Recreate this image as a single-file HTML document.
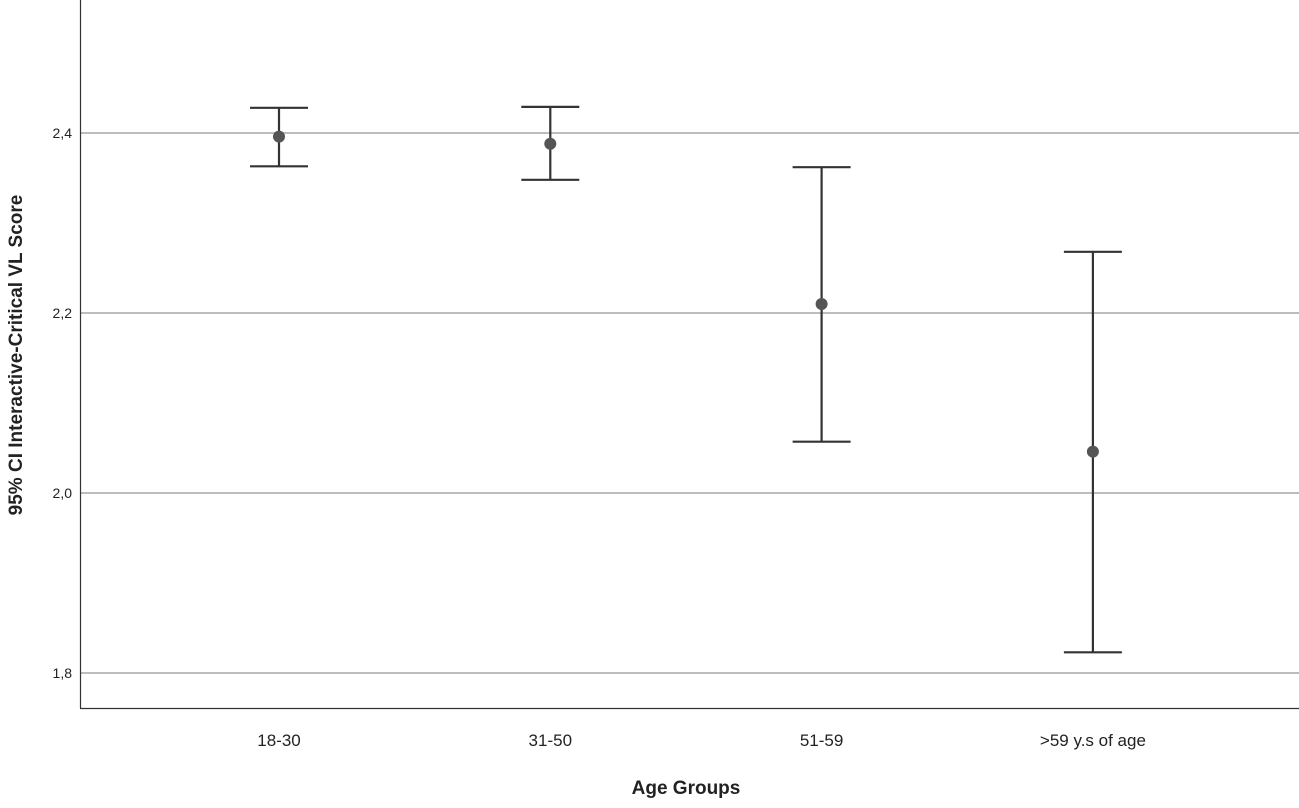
<!DOCTYPE html>
<html><head><meta charset="utf-8"><style>
body{margin:0;background:#fff}
svg{display:block;font-family:"Liberation Sans",Arial,sans-serif}
</style></head><body>
<svg id="chart" width="1299" height="808" viewBox="0 0 1299 808">
<g id="grid"></g>
<g id="yticks"></g>
<g id="xticks"></g>
<g id="marks"></g>
<line x1="80.5" y1="0" x2="80.5" y2="708" stroke="#333" stroke-width="1.2"/>
<line x1="80" y1="708.5" x2="1299" y2="708.5" stroke="#333" stroke-width="1.2"/>
<text transform="translate(22,355) rotate(-90)" text-anchor="middle" font-size="19" font-weight="bold" fill="#222">95% CI Interactive-Critical VL Score</text>
<text x="686" y="794" text-anchor="middle" font-size="19" font-weight="bold" fill="#222">Age Groups</text>
</svg>
<script>
const categories=["18-30","31-50","51-59",">59 y.s of age"];
const means=[2.396,2.388,2.210,2.046];
const upper=[2.428,2.429,2.362,2.268];
const lower=[2.363,2.348,2.057,1.823];
const yTicks=[1.8,2.0,2.2,2.4];
const yTickLabels=["1,8","2,0","2,2","2,4"];
const NS="http://www.w3.org/2000/svg";
function y(v){return 133+(2.4-v)*900;}
function x(i){return 279+i*271.3;}
function mk(tag,attrs,parent){const e=document.createElementNS(NS,tag);for(const k in attrs)e.setAttribute(k,attrs[k]);parent.appendChild(e);return e;}
const grid=document.getElementById('grid'),yt=document.getElementById('yticks'),xt=document.getElementById('xticks'),marks=document.getElementById('marks');
yTicks.forEach((v,i)=>{
 const l=mk('line',{x1:81,x2:1299,y1:y(v),y2:y(v),stroke:'#bdbdbd','stroke-width':2},grid);
 
 
 const t=mk('text',{x:72,y:y(v)+5,'text-anchor':'end','font-size':14,fill:'#222'},yt);
 t.textContent=yTickLabels[i];
 
 
});
categories.forEach((c,i)=>{
 const t=mk('text',{x:x(i),y:746,'text-anchor':'middle','font-size':17,fill:'#222'},xt);
 t.textContent=c;
 
 
 const g=mk('g',{},marks);
 
 
 const cx=x(i),s={stroke:'#333','stroke-width':2.2};
 mk('line',Object.assign({x1:cx,x2:cx,y1:y(upper[i]),y2:y(lower[i])},s),g);
 mk('line',Object.assign({x1:cx-29,x2:cx+29,y1:y(upper[i]),y2:y(upper[i])},s),g);
 mk('line',Object.assign({x1:cx-29,x2:cx+29,y1:y(lower[i]),y2:y(lower[i])},s),g);
 const p=mk('circle',{cx:cx,cy:y(means[i]),r:6,fill:'#555'},g);
 
 
});
</script>
</body></html>
